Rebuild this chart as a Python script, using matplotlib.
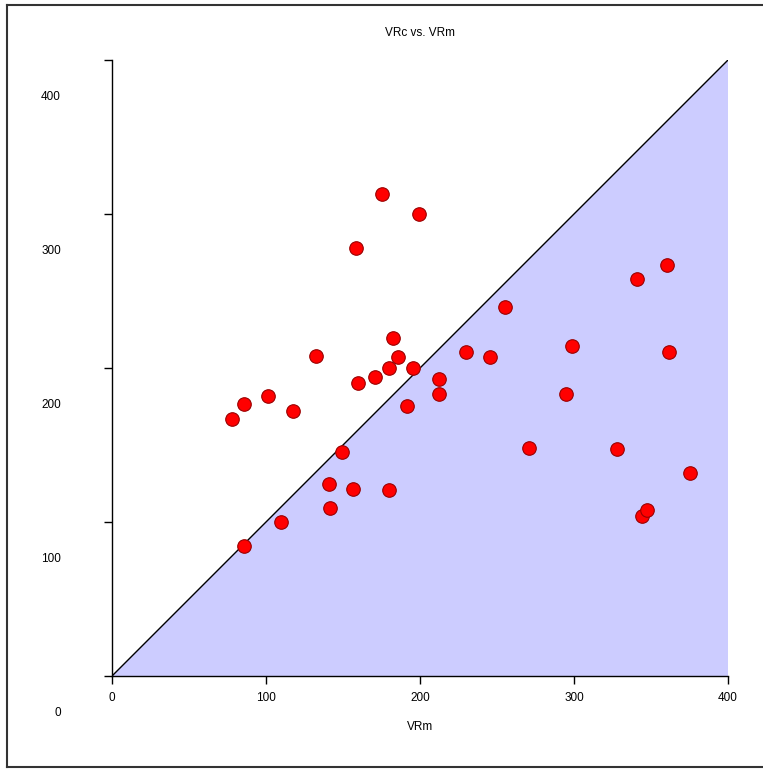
import matplotlib
matplotlib.use("Agg")
import matplotlib.pyplot as plt
from matplotlib.lines import Line2D
from matplotlib.transforms import ScaledTranslation

plt.rcParams['font.family'] = ['Liberation Sans', 'DejaVu Sans']

# VRm (x) and VRc (y)
vrm = [77.9, 85.7, 101.3, 117.5, 132.5, 85.7, 109.7, 149.4, 140.9, 141.6,
       156.5, 179.9, 158.4, 175.3, 199.4, 159.7, 170.8, 179.9, 182.5, 185.7,
       195.5, 191.6, 212.3, 212.3, 229.9, 245.5, 255.2, 270.8, 298.7, 294.8,
       327.9, 340.9, 360.4, 361.7, 375.3, 344.2, 347.4]
vrc = [166.9, 176.6, 181.8, 172.1, 207.8, 84.4, 100.0, 145.5, 124.7, 109.1,
       121.4, 120.8, 277.9, 313.0, 300.0, 190.3, 194.2, 200.0, 219.5, 207.1,
       200.0, 175.3, 192.9, 183.1, 210.4, 207.1, 239.6, 148.1, 214.3, 183.1,
       147.4, 257.8, 266.9, 210.4, 131.8, 103.9, 107.8]
ticks = [0, 100, 200, 300, 400]
lim = 400

fig = plt.figure(figsize=(7.63, 7.69), dpi=100)
ax = fig.add_axes([112 / 763, 93 / 769, 616 / 763, 616 / 769])

# shaded area under the 1:1 line
ax.fill([0, lim, lim], [0, lim, 0], color='#ccccff', zorder=1, lw=0)
ax.plot([0, lim], [0, lim], color='black', lw=1, zorder=2)

ax.scatter(vrm, vrc, s=95, color='#ff0000', edgecolors='#990000',
           linewidths=0.8, zorder=3)

ax.set_xlim(0, lim)
ax.set_ylim(0, lim)
ax.set_xticks(ticks)
ax.set_yticks(ticks)
ax.tick_params(axis='x', length=5.5, width=1, pad=6, labelsize=8.5)
ax.tick_params(axis='y', length=5.8, width=1, pad=31, labelsize=8.5)
for s in ['top', 'right']:
    ax.spines[s].set_visible(False)
for s in ['left', 'bottom']:
    ax.spines[s].set_linewidth(1)

# the y labels sit lower than their ticks in the original
for lab in ax.get_yticklabels():
    lab.set_transform(lab.get_transform() + ScaledTranslation(0, -0.35, fig.dpi_scale_trans))

ax.set_xlabel('VRm', fontsize=8.5, labelpad=12)
fig.text(420 / 763, 1 - 33 / 769, 'VRc vs. VRm', ha='center', va='center', fontsize=8.5)

# frame around the figure (no right edge)
fc = '#333333'
fig.add_artist(Line2D([6.5 / 763, 1.0], [1 - 5 / 769, 1 - 5 / 769], color=fc, lw=1.5))
fig.add_artist(Line2D([6.5 / 763, 6.5 / 763], [1 - 5 / 769, 1 - 767 / 769], color=fc, lw=1.5))
fig.add_artist(Line2D([6.5 / 763, 1.0], [1 - 767 / 769, 1 - 767 / 769], color=fc, lw=1.5))

fig.savefig('out.png', dpi=100)
